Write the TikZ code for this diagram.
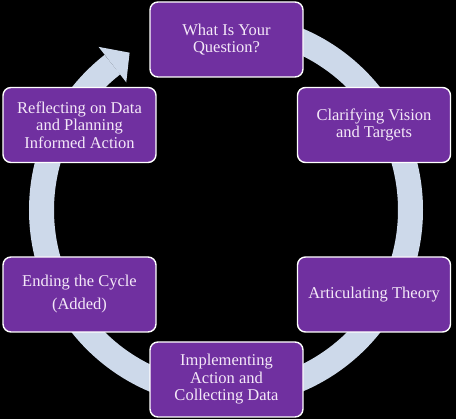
\documentclass[tikz,border=0pt]{standalone}
\usepackage{fontspec}
\setmainfont{Liberation Serif}
\definecolor{boxpurple}{RGB}{112,48,160}
\definecolor{ringblue}{RGB}{205,217,234}
\definecolor{txt}{RGB}{244,232,248}
\tikzset{
  stepbox/.style={draw=white, line width=1.4pt, fill=boxpurple, rounded corners=8pt,
    minimum width=153pt, minimum height=75pt, inner sep=0pt, align=center,
    text=txt, font=\fontsize{16.5}{17.5}\selectfont},
  ring/.style={draw=ringblue, line width=25pt},
}
\begin{document}
\begin{tikzpicture}[x=1pt,y=1pt]
\fill[black] (0,0) rectangle (456,419);
\useasboundingbox (0,0) rectangle (456,419);
\coordinate (c) at (226,209);
% cycle arrow
\draw[ring] ([shift={(90:184.5)}]c) arc[start angle=90, end angle=-232, radius=184.5];
\fill[ringblue] ([shift={(128:207)}]c) -- ([shift={(121.5:184.5)}]c) -- ([shift={(128:162)}]c) -- cycle;
% boxes
\node[stepbox] (q) at (226.5,379.5) {What Is Your\\Question?};
\node[stepbox] (clar) at (374,294) {Clarifying Vision\\and Targets};
\node[stepbox] (art) at (374,124.5) {Articulating Theory};
\node[stepbox] (impl) at (226.5,39.5) {Implementing\\Action and\\Collecting Data};
\node[stepbox] (end) at (79.5,124.5) {Ending the Cycle\\[5.5pt](Added)};
\node[stepbox] (refl) at (79.5,294) {Reflecting on Data\\and Planning\\Informed Action};
\end{tikzpicture}
\end{document}
